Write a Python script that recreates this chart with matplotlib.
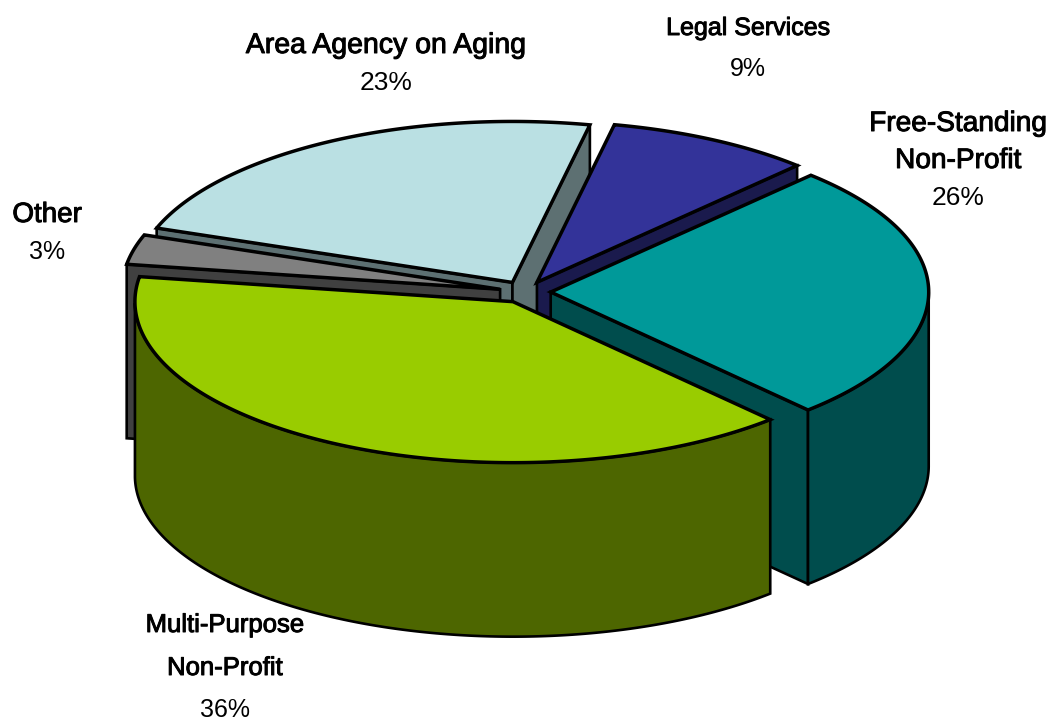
import matplotlib
matplotlib.use("Agg")
import matplotlib.pyplot as plt
import matplotlib.patheffects as pe
import numpy as np
from matplotlib.patches import Polygon

# clockwise from the start angle; green wedge measures about 39% although it is labelled 36%
slices = ["Free-Standing Non-Profit", "Multi-Purpose Non-Profit", "Other",
          "Area Agency on Aging", "Legal Services"]
shares = [26, 39.4, 3, 22.8, 8.8]
top_colors = ["#009999", "#99CC00", "#808080", "#BAE0E3", "#333399"]
side_colors = ["#004D4D", "#4D6600", "#404040", "#5D7072", "#1A1A4D"]
draw_order = [3, 4, 0, 2, 1]

names = [["Free-Standing", "Non-Profit"], ["Multi-Purpose", "Non-Profit"], ["Other"],
         ["Area Agency on Aging"], ["Legal Services"]]
pct_labels = ["26%", "36%", "3%", "23%", "9%"]

# pie geometry in pixels
cx, cy = 525, 292
rx, ry = 378, 161
depth = 174
explode = 0.068
start = 46.5

plt.rcParams["font.family"] = ["Liberation Sans", "DejaVu Sans"]

fig = plt.figure(figsize=(10.49, 7.23), dpi=100)
ax = fig.add_axes([0, 0, 1, 1])
ax.set_xlim(0, 1049)
ax.set_ylim(723, 0)
ax.axis("off")


def rim(ox, oy, t):
    t = np.radians(t)
    return np.column_stack([ox + rx * np.cos(t), oy - ry * np.sin(t)])


def face(pts, color, lw):
    ax.add_patch(Polygon(pts, closed=True, facecolor=color, edgecolor="black",
                         linewidth=lw, joinstyle="miter"))


spans = np.array(shares) / sum(shares) * 360
t_high = start - np.concatenate([[0], np.cumsum(spans)[:-1]])
t_low = t_high - spans

for i in draw_order:
    hi, lo = t_high[i], t_low[i]
    mid = np.radians((hi + lo) / 2)
    ox = cx + explode * rx * np.cos(mid)
    oy = cy - explode * ry * np.sin(mid)
    apex = np.array([[ox, oy]])
    drop = np.array([0, depth])

    # cut faces turned towards the viewer
    for t, normal in ((hi, hi + 90), (lo, lo - 90)):
        if np.sin(np.radians(normal)) < 0:
            edge = np.vstack([apex, rim(ox, oy, [t])])
            face(np.vstack([edge, edge[::-1] + drop]), side_colors[i], 1.9)

    # outer wall, front half only
    ts = np.linspace(hi, lo, 240)
    front = ts[np.sin(np.radians(ts)) < 0]
    if len(front) > 1:
        arc = rim(ox, oy, front)
        face(np.vstack([arc, arc[::-1] + drop]), side_colors[i], 1.9)

    # top
    face(np.vstack([apex, rim(ox, oy, ts)]), top_colors[i], 2.5)

# labels
label_pos = [(958, [124, 161, 198]), (225, [625, 668, 710]), (47, [215, 252]),
             (386, [46, 83]), (748, [28, 69])]
name_sizes = [20.2, 18.5, 20, 20.5, 18]
pct_sizes = [19, 18, 18, 19, 18]
for i in range(len(slices)):
    x, ys = label_pos[i]
    for line, y in zip(names[i], ys):
        ax.text(x, y, line, ha="center", va="center", fontsize=name_sizes[i], color="black",
                path_effects=[pe.withStroke(linewidth=0.7, foreground="black")])
    ax.text(x, ys[-1], pct_labels[i], ha="center", va="center", fontsize=pct_sizes[i], color="black")

fig.savefig("out.png", dpi=100)
